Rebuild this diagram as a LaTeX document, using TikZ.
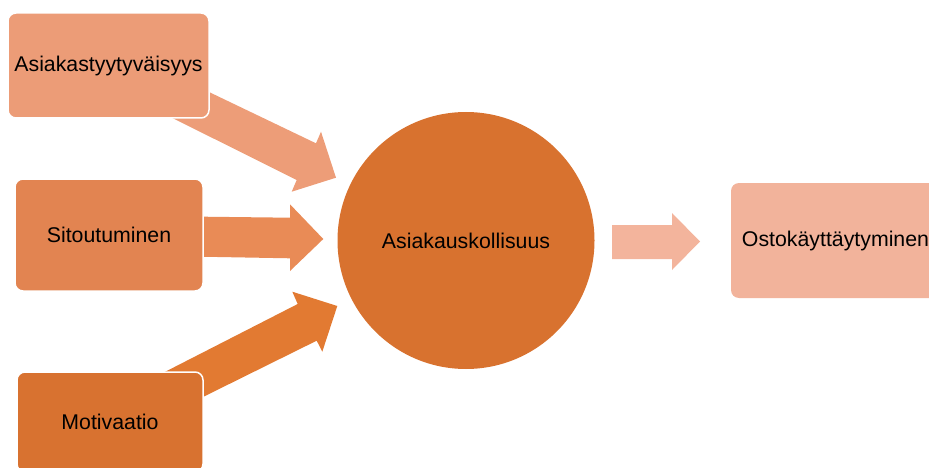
\documentclass[tikz,border=0pt]{standalone}
\usepackage{fontspec}
\setmainfont{Liberation Sans}
\definecolor{cA}{HTML}{EC9C77}
\definecolor{cAarr}{HTML}{ED9D78}
\definecolor{cB}{HTML}{E28451}
\definecolor{cBarr}{HTML}{E98B56}
\definecolor{cC}{HTML}{D87230}
\definecolor{cCarr}{HTML}{E27A32}
\definecolor{cCirc}{HTML}{D8722F}
\definecolor{cD}{HTML}{F2B39B}
\definecolor{cDarr}{HTML}{F3B49C}
\tikzset{
  box/.style={draw=white, line width=1.5pt, rounded corners=8pt, inner sep=0pt, text=black,
    font=\fontsize{21.3}{25}\selectfont},
  blockarrow/.style={draw=none}
}
\begin{document}
\begin{tikzpicture}[x=1pt,y=-1pt]
\useasboundingbox (0,0) rectangle (929,468);
\clip (0,0) rectangle (929,468);
% block arrows
\fill[cAarr] (185,80.6) -- (211.7,93.3) -- (316,143.3) -- (321,131.7) -- (336,177.7)
  -- (291.7,191.7) -- (296.7,180) -- (175,119.3) -- (160,111.8) -- cycle;
\fill[cBarr] (195,216.6) -- (290,217.7) -- (290,204.3) -- (323.3,239) -- (290,271)
  -- (290,258.3) -- (195,256.6) -- cycle;
\fill[cCarr] (150,379.5) -- (170,369.3) -- (297.7,304) -- (292.3,291.7) -- (337.3,306)
  -- (322.3,351.7) -- (316.7,340.7) -- (205,396) -- (190,403.4) -- cycle;
\fill[cDarr] (612,225) -- (672,225) -- (672,213) -- (700,241.5) -- (672,270)
  -- (672,259) -- (612,259) -- cycle;
% nodes
\node[box, fill=cA, minimum width=201pt, minimum height=105pt] (asty) at (108.5,65.5) {Asiakastyytyväisyys};
\node[box, fill=cB, minimum width=188pt, minimum height=112pt] (sito) at (109,235) {Sitoutuminen};
\node[box, fill=cC, minimum width=186pt, minimum height=100pt] (moti) at (110,422) {Motivaatio};
\node[circle, fill=cCirc, minimum size=257pt, inner sep=0pt, font=\fontsize{21.3}{25}\selectfont] (kol) at (466,240.5) {Asiakauskollisuus};
\node[box, fill=cD, draw=none, minimum width=209pt, minimum height=115pt] (osto) at (835.5,240.5) {Ostokäyttäytyminen};
\end{tikzpicture}
\end{document}
